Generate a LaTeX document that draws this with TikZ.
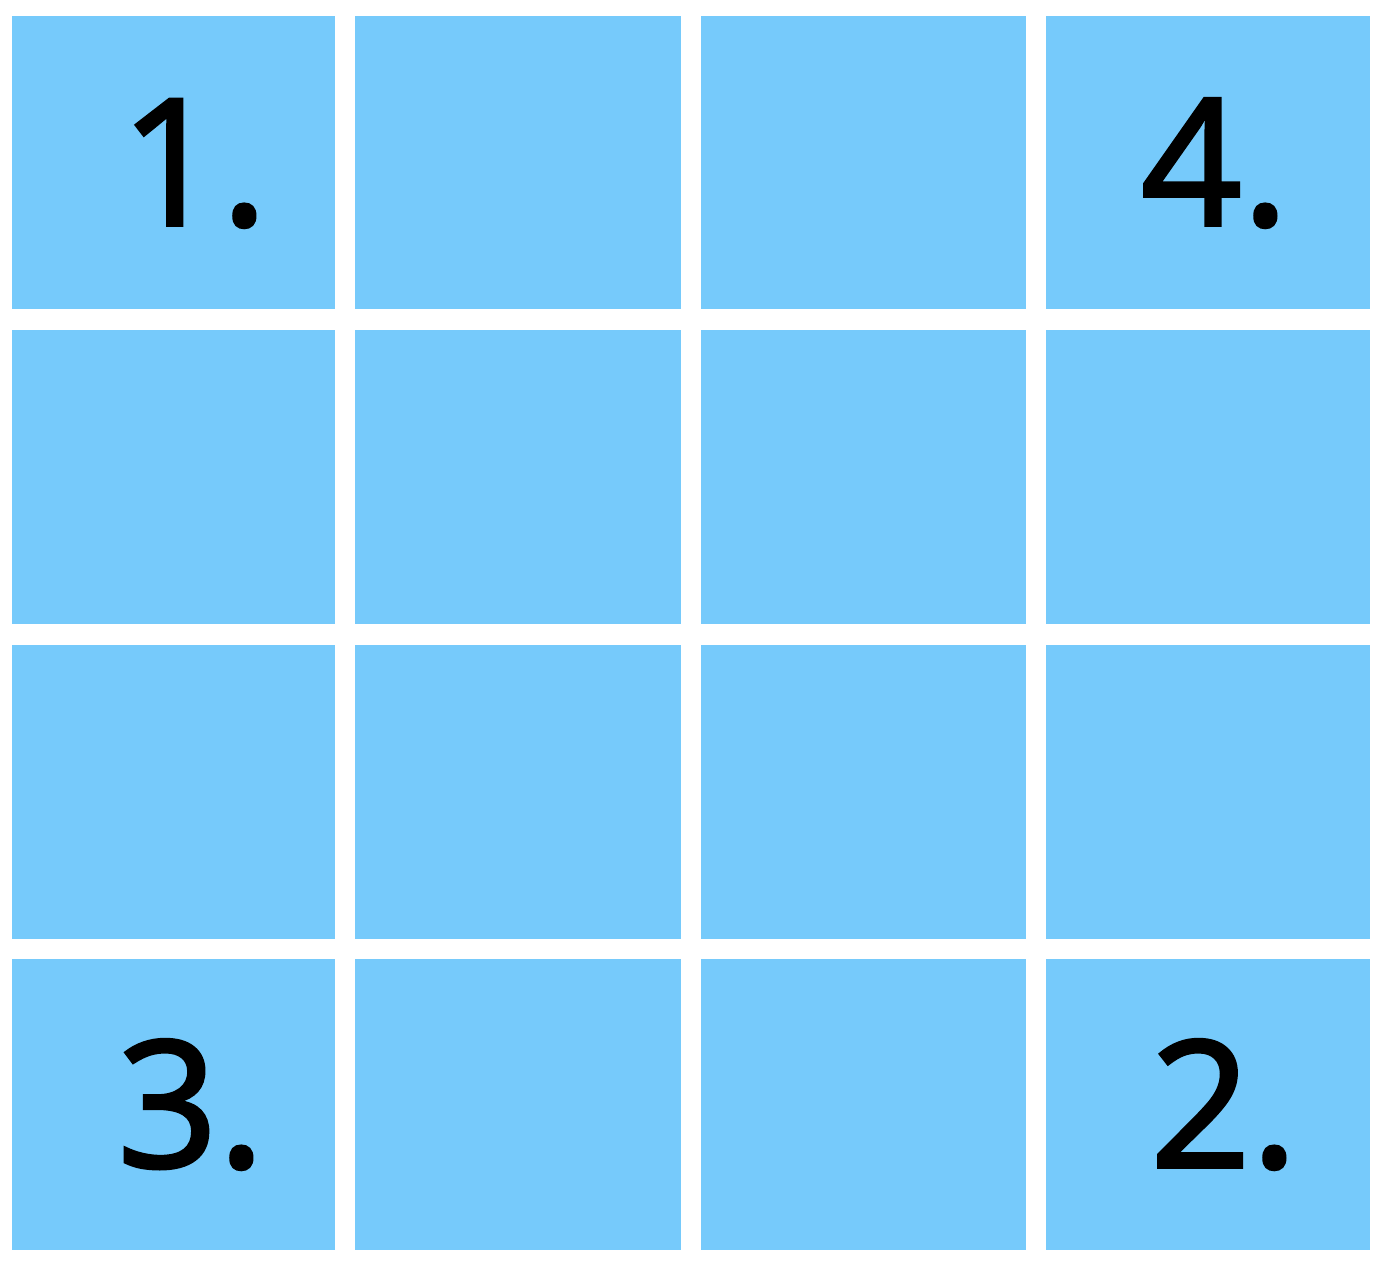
\documentclass[tikz,border=0pt]{standalone}
\usepackage{fontspec}
\setmainfont{Open Sans}[FakeBold=2]
\definecolor{cellblue}{HTML}{76CAFB}
\begin{document}
\begin{tikzpicture}[x=1pt,y=-1pt,
  cell/.style={fill=cellblue,draw=none},
  lbl/.style={anchor=base,inner sep=0pt,font=\fontsize{176}{176}\selectfont}]
\useasboundingbox (0,0) rectangle (1383,1262);
\fill[white] (0,0) rectangle (1383,1262);
\foreach \c/\xa/\xb in {1/12/335,2/355/681,3/701/1026,4/1046/1370}{
  \foreach \r/\ya/\yb in {1/16/309,2/330/624,3/645/939,4/959/1250}{
    \path[cell] (\xa,\ya) rectangle (\xb,\yb);
  }
}
\node[lbl] (l1) at (194,225) {1.};
\node[lbl] (l4) at (1215,225) {4.};
\node[lbl] (l3) at (191,1167) {3.};
\node[lbl] (l2) at (1224,1167) {2.};
\end{tikzpicture}
\end{document}
